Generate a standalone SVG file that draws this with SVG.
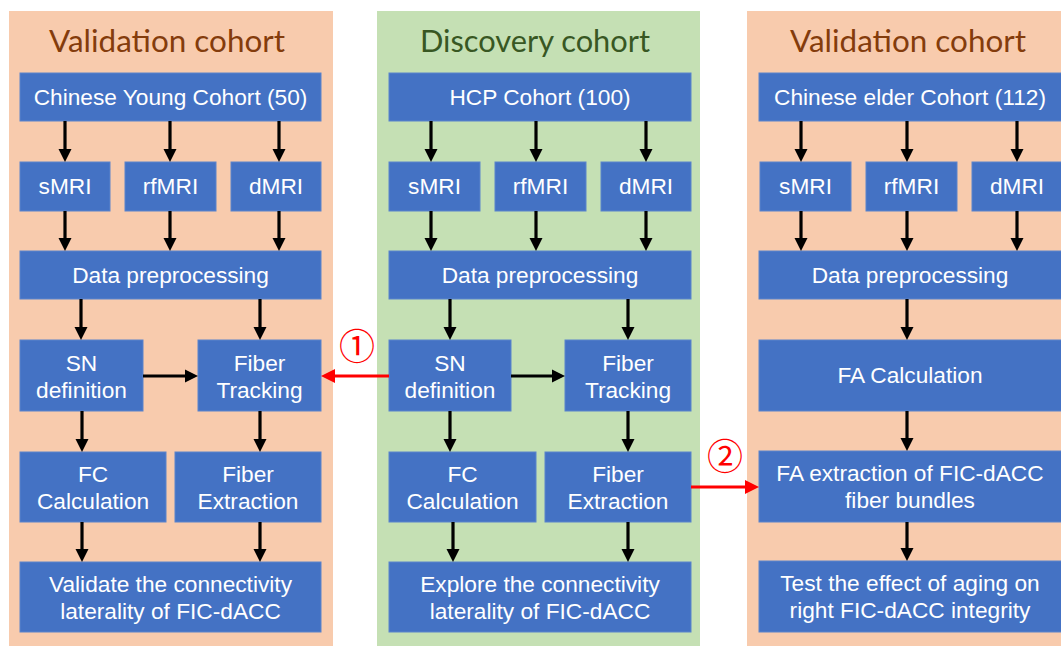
<svg xmlns="http://www.w3.org/2000/svg" width="1061" height="648" viewBox="0 0 1061 648">
<style>
.box{fill:#4472C4;stroke:#5B84CC;stroke-width:1}
.t{font-family:"Liberation Sans",Arial,sans-serif;font-size:22.7px;fill:#FFFFFF;text-anchor:middle}
.title{font-family:Lato,"Open Sans",sans-serif;font-size:31px;text-anchor:middle}
.ar{stroke:#000;stroke-width:3.2;fill:none;marker-end:url(#ah)}
.rar{stroke:#FF0000;stroke-width:3.2;fill:none;marker-end:url(#rh)}
.num{font-family:"Noto Sans CJK JP","Noto Sans CJK SC",sans-serif;font-size:36px;fill:#FF0000;text-anchor:middle}
</style>
<defs>
<marker id="ah" markerUnits="userSpaceOnUse" markerWidth="14" markerHeight="14" viewBox="0 -7 14 14" refX="0" refY="0" orient="auto"><path d="M0,-6.5 L13,0 L0,6.5 z" fill="#000"/></marker>
<marker id="rh" markerUnits="userSpaceOnUse" markerWidth="15" markerHeight="15" viewBox="0 -7.5 15 15" refX="0" refY="0" orient="auto"><path d="M0,-7 L14,0 L0,7 z" fill="#FF0000"/></marker>
</defs>
<rect width="1061" height="648" fill="#FFFFFF"/>
<g id="panels">
<rect x="9" y="11" width="324" height="635" fill="#F8CBAD"/>
<rect x="377" y="11" width="323" height="635" fill="#C5E0B4"/>
<rect x="747" y="11" width="324" height="635" fill="#F8CBAD"/>
<text class="title" x="167" y="52" fill="#843C0C" textLength="236" lengthAdjust="spacingAndGlyphs">Validation cohort</text>
<text class="title" x="535" y="52" fill="#385723" textLength="230" lengthAdjust="spacingAndGlyphs">Discovery cohort</text>
<text class="title" x="908" y="52" fill="#843C0C" textLength="236" lengthAdjust="spacingAndGlyphs">Validation cohort</text>
</g>
<!-- Left panel nodes -->
<g id="L_top"><rect class="box" x="20" y="73" width="301" height="48"/><text class="t" x="170.5" y="105">Chinese Young Cohort (50)</text></g>
<g id="L_smri"><rect class="box" x="20" y="162" width="90" height="49"/><text class="t" x="65" y="194">sMRI</text></g>
<g id="L_rfmri"><rect class="box" x="125" y="162" width="91" height="49"/><text class="t" x="170.5" y="194">rfMRI</text></g>
<g id="L_dmri"><rect class="box" x="231" y="162" width="90" height="49"/><text class="t" x="276" y="194">dMRI</text></g>
<g id="L_dp"><rect class="box" x="20" y="251" width="301" height="48"/><text class="t" x="170.5" y="283">Data preprocessing</text></g>
<g id="L_sn"><rect class="box" x="20" y="340" width="123" height="71"/><text class="t" x="81.5" y="371">SN</text><text class="t" x="81.5" y="398">definition</text></g>
<g id="L_ft"><rect class="box" x="198" y="340" width="123" height="71"/><text class="t" x="259.5" y="371">Fiber</text><text class="t" x="259.5" y="398">Tracking</text></g>
<g id="L_fc"><rect class="box" x="20" y="452" width="146" height="70"/><text class="t" x="93" y="482">FC</text><text class="t" x="93" y="509">Calculation</text></g>
<g id="L_fe"><rect class="box" x="175" y="452" width="146" height="70"/><text class="t" x="248" y="482">Fiber</text><text class="t" x="248" y="509">Extraction</text></g>
<g id="L_val"><rect class="box" x="20" y="562" width="301" height="70"/><text class="t" x="170.5" y="592">Validate the connectivity</text><text class="t" x="170.5" y="619">laterality of FIC-dACC</text></g>
<!-- Middle panel nodes -->
<g id="M_top"><rect class="box" x="389" y="73" width="302" height="48"/><text class="t" x="540" y="105">HCP Cohort (100)</text></g>
<g id="M_smri"><rect class="box" x="389" y="162" width="91" height="49"/><text class="t" x="434.5" y="194">sMRI</text></g>
<g id="M_rfmri"><rect class="box" x="495" y="162" width="91" height="49"/><text class="t" x="540.5" y="194">rfMRI</text></g>
<g id="M_dmri"><rect class="box" x="601" y="162" width="90" height="49"/><text class="t" x="646" y="194">dMRI</text></g>
<g id="M_dp"><rect class="box" x="389" y="251" width="302" height="48"/><text class="t" x="540" y="283">Data preprocessing</text></g>
<g id="M_sn"><rect class="box" x="389" y="340" width="122" height="71"/><text class="t" x="450" y="371">SN</text><text class="t" x="450" y="398">definition</text></g>
<g id="M_ft"><rect class="box" x="565" y="340" width="126" height="71"/><text class="t" x="628" y="371">Fiber</text><text class="t" x="628" y="398">Tracking</text></g>
<g id="M_fc"><rect class="box" x="389" y="452" width="147" height="70"/><text class="t" x="462.5" y="482">FC</text><text class="t" x="462.5" y="509">Calculation</text></g>
<g id="M_fe"><rect class="box" x="545" y="452" width="146" height="70"/><text class="t" x="618" y="482">Fiber</text><text class="t" x="618" y="509">Extraction</text></g>
<g id="M_exp"><rect class="box" x="389" y="562" width="302" height="70"/><text class="t" x="540" y="592">Explore the connectivity</text><text class="t" x="540" y="619">laterality of FIC-dACC</text></g>
<!-- Right panel nodes -->
<g id="R_top"><rect class="box" x="759" y="73" width="303" height="48"/><text class="t" x="910" y="105">Chinese elder Cohort (112)</text></g>
<g id="R_smri"><rect class="box" x="760" y="162" width="91" height="49"/><text class="t" x="805.5" y="194">sMRI</text></g>
<g id="R_rfmri"><rect class="box" x="866" y="162" width="91" height="49"/><text class="t" x="911.5" y="194">rfMRI</text></g>
<g id="R_dmri"><rect class="box" x="972" y="162" width="90" height="49"/><text class="t" x="1017" y="194">dMRI</text></g>
<g id="R_dp"><rect class="box" x="759" y="251" width="303" height="48"/><text class="t" x="910" y="283">Data preprocessing</text></g>
<g id="R_fa"><rect class="box" x="759" y="340" width="303" height="71"/><text class="t" x="910" y="383">FA Calculation</text></g>
<g id="R_fae"><rect class="box" x="759" y="451" width="303" height="71"/><text class="t" x="910" y="481">FA extraction of FIC-dACC</text><text class="t" x="910" y="508">fiber bundles</text></g>
<g id="R_test"><rect class="box" x="759" y="561" width="303" height="71"/><text class="t" x="910" y="591">Test the effect of aging on</text><text class="t" x="910" y="618">right FIC-dACC integrity</text></g>
<!-- Connectors -->
<g id="connectors">
<path class="ar" d="M65,121 V149"/><path class="ar" d="M170,121 V149"/><path class="ar" d="M279,121 V149"/>
<path class="ar" d="M65,211 V238"/><path class="ar" d="M170,211 V238"/><path class="ar" d="M279,211 V238"/>
<path class="ar" d="M81,299 V327"/><path class="ar" d="M260,299 V327"/>
<path class="ar" d="M143,376 H185"/>
<path class="ar" d="M82,411 V439"/><path class="ar" d="M260,411 V439"/>
<path class="ar" d="M82,522 V549"/><path class="ar" d="M260,522 V549"/>

<path class="ar" d="M431,121 V149"/><path class="ar" d="M536,121 V149"/><path class="ar" d="M646,121 V149"/>
<path class="ar" d="M431,211 V238"/><path class="ar" d="M536,211 V238"/><path class="ar" d="M646,211 V238"/>
<path class="ar" d="M450,299 V327"/><path class="ar" d="M628,299 V327"/>
<path class="ar" d="M511,376 H552"/>
<path class="ar" d="M450,411 V439"/><path class="ar" d="M628,411 V439"/>
<path class="ar" d="M453,522 V549"/><path class="ar" d="M628,522 V549"/>

<path class="ar" d="M801,121 V149"/><path class="ar" d="M907,121 V149"/><path class="ar" d="M1017,121 V149"/>
<path class="ar" d="M801,211 V238"/><path class="ar" d="M907,211 V238"/><path class="ar" d="M1017,211 V238"/>
<path class="ar" d="M907,299 V327"/>
<path class="ar" d="M907,411 V438"/>
<path class="ar" d="M907,522 V548"/>

<path class="rar" d="M389,376 H335"/>
<path class="rar" d="M691,487 H745"/>
<text class="num" x="357" y="360">①</text>
<text class="num" x="725" y="470">②</text>
</g>
</svg>
